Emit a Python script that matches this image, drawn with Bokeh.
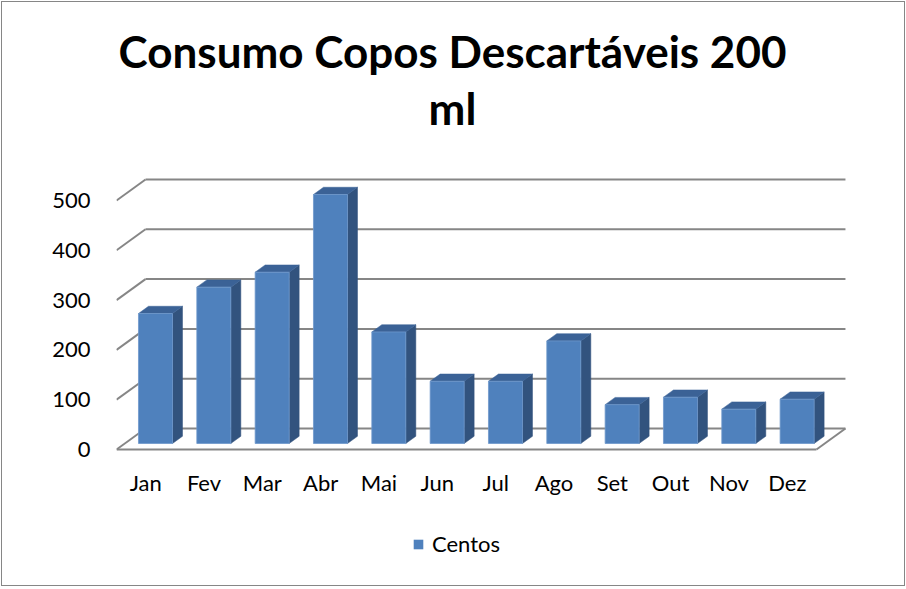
from bokeh.plotting import figure
from bokeh.layouts import column
from bokeh.models import FixedTicker, Legend, LegendItem
from bokeh.core.properties import value
from bokeh.embed import file_html
from bokeh.resources import INLINE

# ---- data ----
months = ["Jan", "Fev", "Mar", "Abr", "Mai", "Jun", "Jul", "Ago", "Set", "Out", "Nov", "Dez"]
centos = [261, 314, 344, 500, 224, 125, 125, 206, 78, 93, 69, 89]
y_ticks = [0, 100, 200, 300, 400, 500]
series_name = "Centos"
title_lines = ["Consumo Copos Descartáveis 200", "ml"]

# ---- layout / 3D geometry (styles) ----
W = 906
TITLE_H, MAIN_H, LEG_H = 170, 345, 72
FL, FR = 116, 846            # frame left / right in px
FH = 282                     # frame height in px
FW = FR - FL
PX_X = 58.33                 # px per category
PX_Y = 0.498                 # px per value unit
n = len(months)
x_end = FW / PX_X
y_start = -3 / PX_Y
y_end = y_start + FH / PX_Y

DX = 29 / PX_X               # depth offset in x (data units)
DY = 21 / PX_Y               # depth offset in y (data units)
D1 = 6 / 21                  # front face depth fraction
DD = 0.345                   # bar depth fraction
BAR_W = 0.583
GAP = 0.235

FRONT = "#4F81BD"
SIDE = "#32537E"
TOP = "#3B6296"
GRID = "#868686"
FONT = "Lato"
LABEL_SIZE = "22px"
TITLE_X = 452                # title centre (px)
TITLE_MID = [50, 107]        # title line middles (px from top)


def strip(height):
    f = figure(width=W, height=height, x_range=(FL, FR), y_range=(0, height),
               x_axis_type=None, y_axis_type=None, output_backend="svg",
               toolbar_location=None, title=None,
               min_border_left=FL, min_border_right=W - FR, min_border_top=0, min_border_bottom=0)
    f.outline_line_color = None
    f.xgrid.visible = False
    f.ygrid.visible = False
    f.background_fill_color = None
    f.border_fill_color = None
    return f


# ---- title strip ----
pt = strip(TITLE_H)
pt.text(x=[TITLE_X, TITLE_X], y=[TITLE_H - TITLE_MID[0], TITLE_H - TITLE_MID[1]], text=title_lines,
        text_align="center", text_baseline="middle", text_font=value(FONT),
        text_font_style="bold", text_font_size="44px", text_color="#000000")

# ---- main chart ----
p = figure(width=W, height=MAIN_H, x_range=(0, x_end), y_range=(y_start, y_end),
           output_backend="svg", toolbar_location=None, title=None,
           min_border_left=FL, min_border_right=W - FR, min_border_top=0,
           min_border_bottom=MAIN_H - FH)
p.outline_line_color = None
p.xgrid.visible = False
p.ygrid.visible = False
p.background_fill_color = None
p.border_fill_color = None

m = len(y_ticks)
p.segment(x0=[0] * m, y0=y_ticks, x1=[DX] * m, y1=[v + DY for v in y_ticks],
          line_color=GRID, line_width=2)
p.segment(x0=[DX] * m, y0=[v + DY for v in y_ticks], x1=[n + DX] * m,
          y1=[v + DY for v in y_ticks], line_color=GRID, line_width=2)
p.segment(x0=[0, n], y0=[0, 0], x1=[n, n + DX], y1=[0, DY], line_color=GRID, line_width=2)

lefts = [i + GAP + D1 * DX for i in range(n)]
rights = [l + BAR_W for l in lefts]
bottoms = [D1 * DY] * n
tops = [v + D1 * DY for v in centos]
ddx, ddy = DD * DX, DD * DY

side_xs = [[r, r + ddx, r + ddx, r] for r in rights]
side_ys = [[b, b + ddy, t + ddy, t] for b, t in zip(bottoms, tops)]
top_xs = [[l, r, r + ddx, l + ddx] for l, r in zip(lefts, rights)]
top_ys = [[t, t, t + ddy, t + ddy] for t in tops]

p.patches(xs=side_xs, ys=side_ys, fill_color=SIDE, line_color=SIDE, line_width=0.5)
p.patches(xs=top_xs, ys=top_ys, fill_color=TOP, line_color=TOP, line_width=0.5)
p.quad(left=lefts, right=rights, bottom=bottoms, top=tops,
       fill_color=FRONT, line_color="#6E98CC", line_width=0.8)

p.yaxis.ticker = FixedTicker(ticks=y_ticks)
p.yaxis.axis_line_color = None
p.yaxis.major_tick_line_color = None
p.yaxis.minor_tick_line_color = None
p.yaxis.major_tick_out = 0
p.yaxis.major_tick_in = 0
p.yaxis.major_label_standoff = 26
p.yaxis.major_label_text_font = FONT
p.yaxis.major_label_text_font_size = LABEL_SIZE
p.yaxis.major_label_text_color = "#000000"

xt = [i + 0.5 for i in range(n)]
p.xaxis.ticker = FixedTicker(ticks=xt)
p.xaxis.major_label_overrides = {t: mo for t, mo in zip(xt, months)}
p.xaxis.axis_line_color = None
p.xaxis.major_tick_line_color = None
p.xaxis.minor_tick_line_color = None
p.xaxis.major_tick_out = 0
p.xaxis.major_tick_in = 0
p.xaxis.major_label_standoff = 16
p.xaxis.major_label_text_font = FONT
p.xaxis.major_label_text_font_size = LABEL_SIZE
p.xaxis.major_label_text_color = "#000000"

# ---- legend strip ----
pl = strip(LEG_H)
# zero-area proxy renderer that only supplies the legend swatch style
swatch = pl.quad(left=[FL], right=[FL], bottom=[0], top=[0], fill_color=FRONT, line_color=None)
legend = Legend(items=[LegendItem(label=series_name, renderers=[swatch])], location=(412 - FL, 30),
                orientation="horizontal", border_line_color=None, background_fill_alpha=0,
                padding=0, margin=0, glyph_width=12, glyph_height=12, label_standoff=8,
                label_text_font=FONT, label_text_font_size=LABEL_SIZE, label_text_color="#000000")
pl.add_layout(legend)

layout = column(pt, p, pl, spacing=0)
layout.styles = {"outline": "1px solid #868686", "outline-offset": "-2px"}

open("out.html", "w").write(file_html(layout, INLINE))
